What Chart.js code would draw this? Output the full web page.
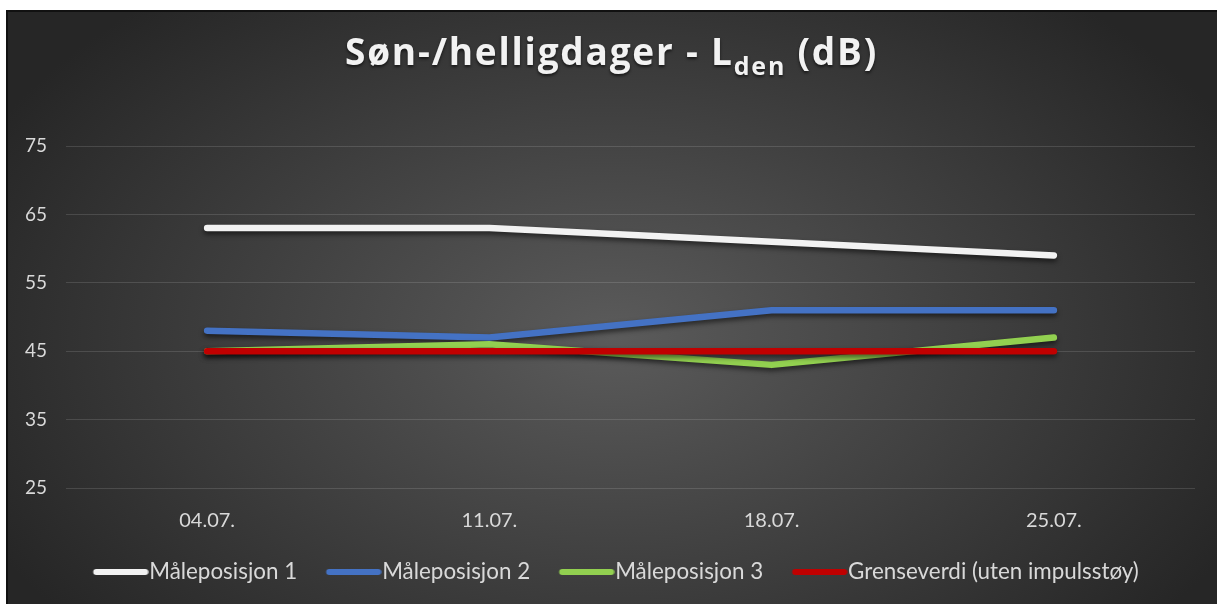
<!DOCTYPE html>
<html>
<head>
<meta charset="utf-8">
<script src="https://cdn.jsdelivr.net/npm/chart.js@4"></script>
<style>
  body { margin: 0; background: #fff; }
  #wrap { position: absolute; left: 6px; top: 10px; width: 1209px; height: 592px;
          border-top: 2px solid #111; border-left: 2px solid #111; }
</style>
</head>
<body>
<div id="wrap"><canvas id="chart" width="1209" height="592"></canvas></div>
<script>
var datoer = ["04.07.", "11.07.", "18.07.", "25.07."];
var maalepos1 = [63, 63, 61, 59];
var maalepos2 = [48, 47, 51, 51];
var maalepos3 = [45, 46, 43, 47];
var grenseverdi = [45, 45, 45, 45];
var yTicks = [25, 35, 45, 55, 65, 75];

var tekstFarge = "#d9d9d9";
var font = "Lato, 'Open Sans', sans-serif";
var legendFont = 22.4;
var legendBox = 56 - legendFont / 2;

// bakgrunn med radiell gradient
var bakgrunn = {
  id: "bakgrunn",
  beforeDraw: function(chart) {
    var ctx = chart.ctx, w = chart.width, h = chart.height;
    ctx.save();
    ctx.translate(w / 2, h * 0.55);
    ctx.scale(1, h / w * 1.3);
    var g = ctx.createRadialGradient(0, 0, 0, 0, 0, w * 0.58);
    g.addColorStop(0, "#5b5b5b");
    g.addColorStop(1, "#262626");
    ctx.fillStyle = g;
    ctx.fillRect(-w, -w * 2, w * 2, w * 4);
    ctx.restore();
  }
};

// tittel med senket skrift
var tittel = {
  id: "tittel",
  afterDraw: function(chart) {
    var ctx = chart.ctx;
    var del1 = "Søn-/helligdager - L", sub = "den", del2 = " (dB)";
    var stor = "bold 37px 'Open Sans', Lato, sans-serif", liten = "bold 25px 'Open Sans', Lato, sans-serif";
    ctx.save();
    ctx.fillStyle = "#f2f2f2";
    ctx.textBaseline = "alphabetic";
    ctx.font = stor;
    var w1 = ctx.measureText(del1).width, w3 = ctx.measureText(del2).width;
    ctx.font = liten;
    var w2 = ctx.measureText(sub).width;
    var antall = (del1 + sub + del2).length;
    var ls = Math.max(0, (533 - (w1 + w2 + w3)) / antall);
    ctx.letterSpacing = ls + "px";
    ctx.font = stor;
    w1 = ctx.measureText(del1).width; w3 = ctx.measureText(del2).width;
    ctx.font = liten;
    w2 = ctx.measureText(sub).width;
    var x = 603.5 - (w1 + w2 + w3) / 2, y = 53;
    ctx.shadowColor = "rgba(0,0,0,0.6)";
    ctx.shadowBlur = 3;
    ctx.shadowOffsetY = 2;
    ctx.font = stor;
    ctx.fillText(del1, x, y);
    ctx.font = liten;
    ctx.fillText(sub, x + w1, y + 10);
    ctx.font = stor;
    ctx.fillText(del2, x + w1 + w2, y);
    ctx.restore();
  }
};

// skygge under linjene
var skygge = {
  id: "skygge",
  beforeDatasetDraw: function(chart) {
    var ctx = chart.ctx;
    ctx.save();
    ctx.shadowColor = "rgba(0,0,0,0.55)";
    ctx.shadowBlur = 5;
    ctx.shadowOffsetY = 3;
  },
  afterDatasetDraw: function(chart) {
    chart.ctx.restore();
  }
};

// linjesymbol for forklaringen, plassert rett foran teksten
function legendLinje(farge) {
  var c = document.createElement("canvas");
  var lengde = 55;
  c.width = Math.ceil(2 * (lengde - legendBox / 2));
  c.height = 10;
  var x0 = c.width / 2 - legendBox / 2;
  var g = c.getContext("2d");
  g.strokeStyle = farge;
  g.lineWidth = 6;
  g.lineCap = "round";
  g.beginPath();
  g.moveTo(x0 + 3, 5);
  g.lineTo(x0 + lengde - 3, 5);
  g.stroke();
  return c;
}

function serie(navn, data, farge, rekkefolge) {
  return {
    label: navn, data: data, borderColor: farge, backgroundColor: farge,
    borderWidth: 6.5, borderCapStyle: "round", borderJoinStyle: "round",
    pointRadius: 0, pointHoverRadius: 0, tension: 0, fill: false, order: rekkefolge
  };
}

var canvas = document.getElementById("chart").getContext("2d");
window.linje = new Chart(canvas, {
  type: "line",
  data: {
    labels: datoer,
    datasets: [
      serie("Måleposisjon 1", maalepos1, "#f2f2f2", 4),
      serie("Måleposisjon 2", maalepos2, "#4472c4", 3),
      serie("Måleposisjon 3", maalepos3, "#92d050", 2),
      serie("Grenseverdi (uten impulsstøy)", grenseverdi, "#c00000", 1)
    ]
  },
  options: {
    responsive: false,
    animation: false,
    layout: { padding: { top: 134, left: 7, right: 0, bottom: 10.8 } },
    plugins: {
      title: { display: false },
      tooltip: { enabled: false },
      legend: {
        position: "bottom",
        labels: {
          usePointStyle: true,
          pointStyleWidth: legendBox,
          padding: 29,
          color: tekstFarge,
          font: { family: font, size: legendFont },
          generateLabels: function(chart) {
            return chart.data.datasets.map(function(ds, i) {
              return { text: ds.label, strokeStyle: ds.borderColor, fillStyle: ds.borderColor,
                       lineWidth: 0, pointStyle: legendLinje(ds.borderColor),
                       fontColor: tekstFarge, hidden: false, datasetIndex: i };
            });
          }
        }
      }
    },
    scales: {
      x: {
        offset: true,
        grid: { display: false, drawTicks: false },
        border: { display: false },
        ticks: { color: tekstFarge, font: { family: font, size: 20 }, padding: 21 },
        afterFit: function(s) { s.height = 43.8; }
      },
      y: {
        min: 25, max: 75,
        afterBuildTicks: function(s) { s.ticks = yTicks.map(function(v) { return { value: v }; }); },
        grid: { color: "rgba(255,255,255,0.13)", lineWidth: 1, drawTicks: false },
        border: { display: false },
        ticks: { color: tekstFarge, font: { family: font, size: 19 }, padding: 19 },
        afterFit: function(s) { s.width = 51; }
      },
      hoyre: {
        position: "right",
        min: 25, max: 75,
        grid: { display: false, drawTicks: false },
        border: { display: false },
        ticks: { display: false },
        afterFit: function(s) { s.width = 22; }
      }
    }
  },
  plugins: [bakgrunn, skygge, tittel]
});
</script>
</body>
</html>
